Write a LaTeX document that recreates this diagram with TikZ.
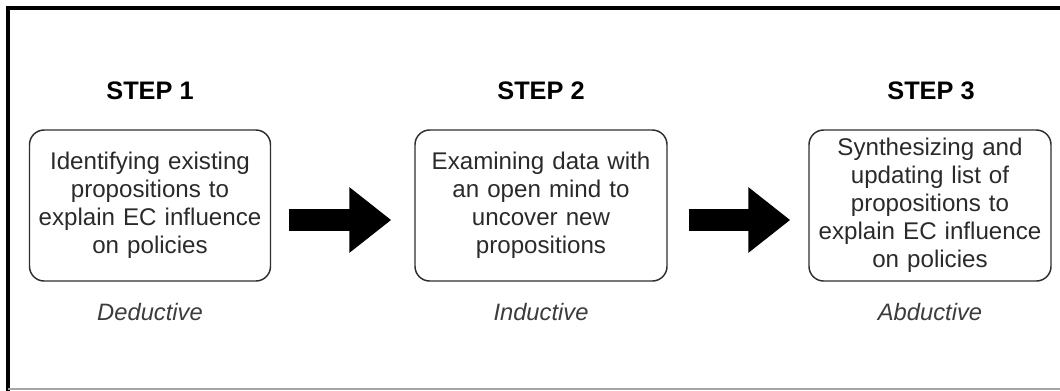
\documentclass[tikz,border=0pt]{standalone}
\usepackage{fontspec}
\setmainfont{Liberation Sans}
\usetikzlibrary{arrows.meta}
\definecolor{boxline}{HTML}{2E2E2E}
\definecolor{bodytext}{HTML}{2A2A2A}
\definecolor{modetext}{HTML}{3C3C3C}
\begin{document}
\begin{tikzpicture}[x=0.75pt,y=-0.75pt,
  stepbox/.style={draw=boxline,line width=1.1pt,rounded corners=11pt,
    minimum width=241*0.75pt,minimum height=151*0.75pt,
    text width=237*0.75pt,align=center,inner sep=0pt,text=bodytext,
    font=\fontsize{18.1pt}{21pt}\selectfont},
  steptitle/.style={font=\fontsize{19pt}{22pt}\selectfont\bfseries,text=black},
  modelabel/.style={font=\fontsize{17.8pt}{20pt}\selectfont\itshape,text=modetext},
  bigarrow/.style={line width=16.5pt,line cap=butt,
    -{Triangle[length=31.5pt,width=47.25pt]}}]
  \useasboundingbox (0,0) rectangle (1060,390);
  % outer frame
  \draw[line width=3pt] (1062,8) -- (8,8) -- (8,392);
  \draw[color=black!35,line width=0.9pt] (8,389) -- (1062,389);

  % step boxes
  \node[stepbox] (b1) at (150,205.5) {Identifying existing\\propositions to\\explain EC influence\\on policies};
  \node[stepbox,minimum width=252*0.75pt,text width=246*0.75pt] (b2) at (541,205.5) {Examining data with\\an open mind to\\uncover new\\propositions};
  \node[stepbox,minimum width=242*0.75pt] (b3) at (930,205.5) {Synthesizing and\\updating list of\\propositions to\\explain EC influence\\on policies};

  % titles
  \node[steptitle] (t1) at (150,91) {STEP 1};
  \node[steptitle] (t2) at (541,91) {STEP 2};
  \node[steptitle] (t3) at (931,91) {STEP 3};

  % reasoning modes
  \node[modelabel] (m1) at (150,312) {Deductive};
  \node[modelabel] (m2) at (541,312) {Inductive};
  \node[modelabel] (m3) at (930,312) {Abductive};

  % block arrows between steps
  \draw[bigarrow] ([xshift=18*0.75pt,yshift=-14.5*0.75pt]b1.east) -- ([xshift=-23*0.75pt,yshift=-14.5*0.75pt]b2.west);
  \draw[bigarrow] ([xshift=21*0.75pt,yshift=-14.5*0.75pt]b2.east) -- ([xshift=-18*0.75pt,yshift=-14.5*0.75pt]b3.west);
\end{tikzpicture}
\end{document}
